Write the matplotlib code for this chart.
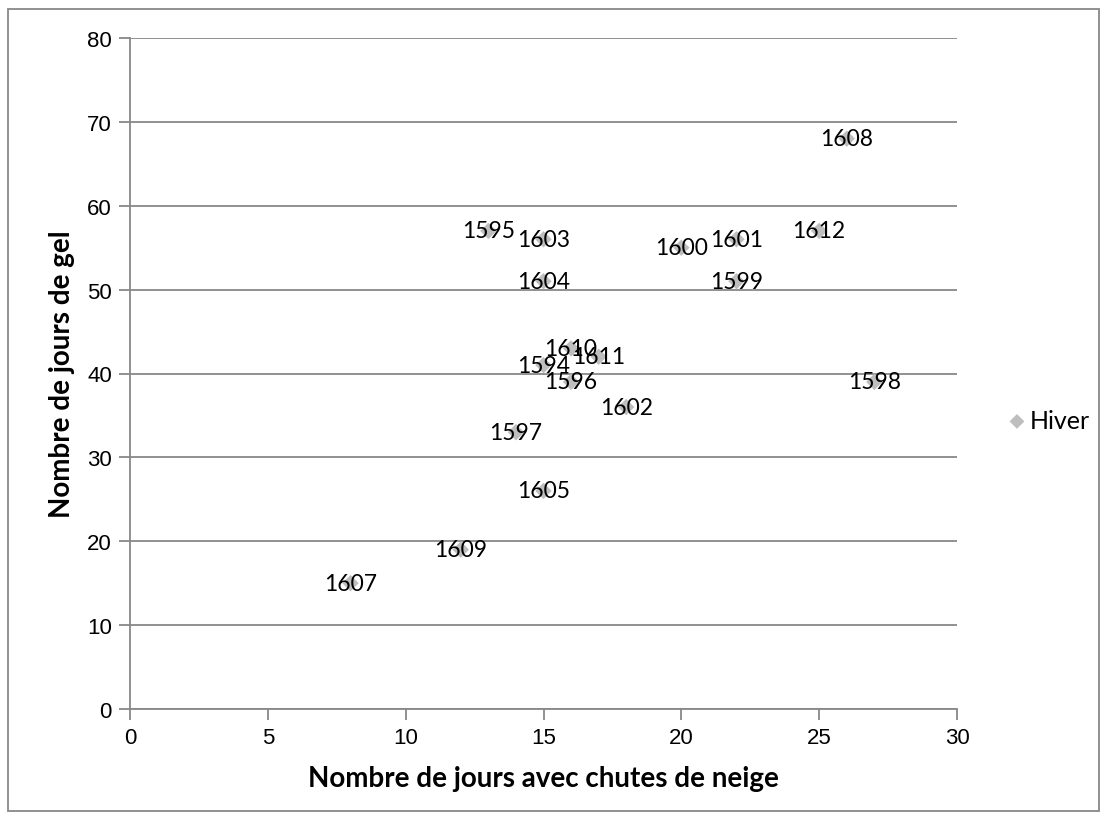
import matplotlib
matplotlib.use("Agg")
import matplotlib.pyplot as plt
from matplotlib.patches import Rectangle

years = ["1594", "1595", "1596", "1597", "1598", "1599", "1600", "1601", "1602", "1603",
         "1604", "1605", "1607", "1608", "1609", "1610", "1611", "1612"]
snow_days = [15, 13, 16, 14, 27, 22, 20, 22, 18, 15, 15, 15, 8, 26, 12, 16, 17, 25]
frost_days = [41, 57, 39, 33, 39, 51, 55, 56, 36, 56, 51, 26, 15, 68, 19, 43, 42, 57]

x_ticks = [0, 5, 10, 15, 20, 25, 30]
y_ticks = [0, 10, 20, 30, 40, 50, 60, 70, 80]
series_name = "Hiver"
x_title = "Nombre de jours avec chutes de neige"
y_title = "Nombre de jours de gel"

fig = plt.figure(figsize=(11.07, 8.2), dpi=100)
ax = fig.add_axes([130/1107, 1-710/820, (957-130)/1107, (710-39)/820])

grid_c = "#888888"
ax.scatter(snow_days, frost_days, marker="D", s=70, color="#BEBEBE", edgecolors="none",
           zorder=3, label=series_name)
for x, y, t in zip(snow_days, frost_days, years):
    ax.text(x, y, t, ha="center", va="center", fontsize=16.5, family="Lato", color="black", zorder=4)

ax.set_xlim(0, 30)
ax.set_ylim(0, 80)
ax.set_xticks(x_ticks)
ax.set_yticks(y_ticks)
ax.tick_params(labelsize=16, colors="black")
for lab in ax.get_xticklabels() + ax.get_yticklabels():
    lab.set_family("Liberation Sans")
ax.tick_params(axis="both", which="major", length=8, width=1.3, color=grid_c, direction="out")
ax.tick_params(axis="x", pad=5)
ax.tick_params(axis="y", pad=5)
ax.yaxis.grid(True, color=grid_c, linewidth=1.3)
ax.set_axisbelow(True)
for s in ["top", "right"]:
    ax.spines[s].set_visible(False)
for s in ["left", "bottom"]:
    ax.spines[s].set_color(grid_c)
    ax.spines[s].set_linewidth(1.3)

ax.set_xlabel(x_title, fontsize=20, fontweight="bold", family="Lato", labelpad=12)
ax.set_ylabel(y_title, fontsize=20, fontweight="bold", family="Lato", labelpad=9)

leg = ax.legend(loc="center left", bbox_to_anchor=(1.0574, 0.43), frameon=False,
                prop={"family": "Lato", "size": 18}, handletextpad=0.0, handlelength=1.0,
                markerscale=0.9, borderaxespad=0.0, borderpad=0.0)

fig.patches.append(Rectangle((8/1107, 1-812/820), (1099-8)/1107, (812-10)/820,
                             transform=fig.transFigure, fill=False, edgecolor="#888888",
                             linewidth=1.3))
fig.savefig("out.png", dpi=100)
